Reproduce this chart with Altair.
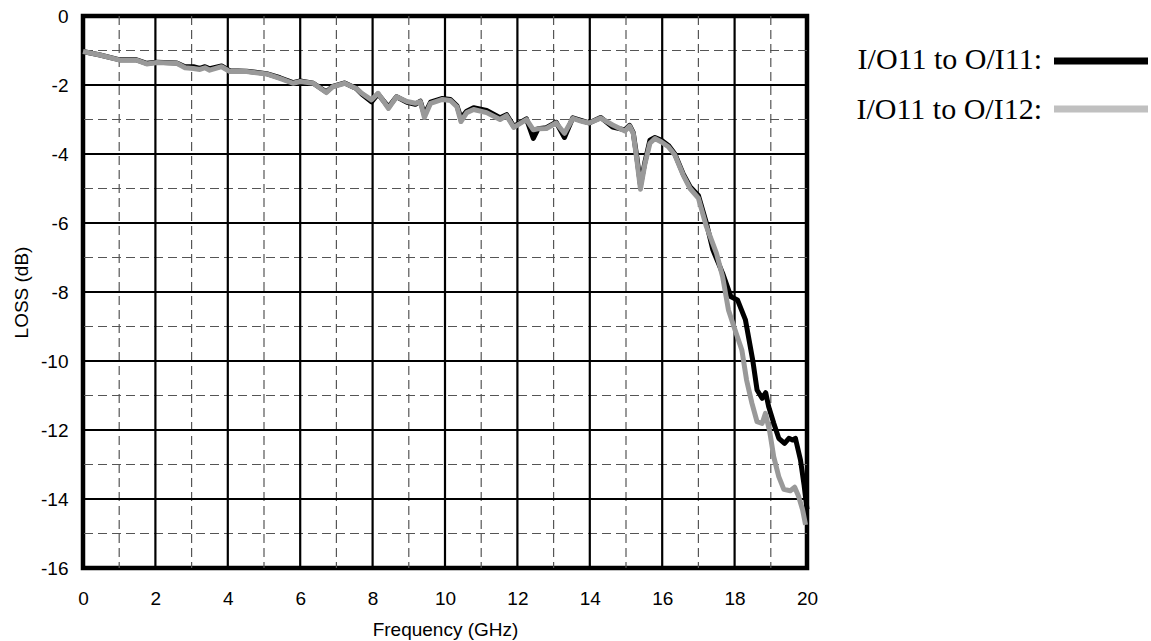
import altair as alt
import pandas as pd

# ---- data ----
freq_a = [0, 0.47, 1.02, 1.48, 1.76, 2.04, 2.59, 2.82, 3.05, 3.23, 3.37, 3.5, 3.83, 4.06, 4.52, 5.07,
          5.44, 5.8, 6.0, 6.36, 6.72, 6.9, 7.23, 7.55, 7.7, 7.97, 8.15, 8.44, 8.66, 8.95, 9.18, 9.32,
          9.43, 9.6, 9.93, 10.15, 10.33, 10.44, 10.6, 10.79, 11.15, 11.52, 11.7, 11.9, 12.25, 12.44,
          12.57, 12.8, 13.07, 13.3, 13.53, 13.8, 13.98, 14.3, 14.63, 14.97, 15.1, 15.2, 15.3, 15.4,
          15.52, 15.66, 15.8, 15.98, 16.17, 16.35, 16.58, 16.77, 17.0, 17.22, 17.4, 17.67, 17.9,
          18.08, 18.3, 18.5, 18.62, 18.76, 18.86, 18.94, 19.08, 19.22, 19.38, 19.5, 19.6, 19.68,
          19.82, 19.92, 20.0]
loss_a = [-1.03, -1.13, -1.27, -1.27, -1.37, -1.34, -1.36, -1.47, -1.47, -1.52, -1.47, -1.53, -1.45,
          -1.59, -1.6, -1.67, -1.79, -1.93, -1.88, -1.95, -2.2, -2.04, -1.94, -2.1, -2.26, -2.49,
          -2.26, -2.64, -2.34, -2.5, -2.56, -2.47, -2.86, -2.5, -2.39, -2.42, -2.6, -2.96, -2.76,
          -2.66, -2.74, -2.95, -2.86, -3.2, -2.98, -3.55, -3.27, -3.24, -3.08, -3.52, -2.95, -3.04,
          -3.1, -2.94, -3.22, -3.3, -3.17, -3.38, -4.1, -4.9, -4.25, -3.6, -3.52, -3.6, -3.75,
          -4.0, -4.58, -4.95, -5.2, -6.0, -6.78, -7.46, -8.14, -8.23, -8.81, -9.97, -10.84, -11.08,
          -10.92, -11.32, -11.8, -12.24, -12.39, -12.24, -12.29, -12.24, -12.87, -13.6, -14.3]

freq_b = [0, 0.47, 1.02, 1.48, 1.76, 2.04, 2.59, 2.82, 3.05, 3.23, 3.37, 3.5, 3.83, 4.06, 4.52, 5.07,
          5.44, 5.8, 6.0, 6.36, 6.72, 6.9, 7.23, 7.55, 7.7, 7.97, 8.15, 8.44, 8.66, 8.95, 9.18, 9.32,
          9.43, 9.6, 9.93, 10.15, 10.33, 10.44, 10.6, 10.79, 11.15, 11.52, 11.7, 11.9, 12.25, 12.44,
          12.57, 12.8, 13.07, 13.3, 13.53, 13.8, 13.98, 14.3, 14.63, 14.97, 15.1, 15.2, 15.3, 15.4,
          15.52, 15.66, 15.8, 15.98, 16.17, 16.35, 16.58, 16.77, 17.0, 17.22, 17.5, 17.67, 17.83,
          17.98, 18.2, 18.33, 18.48, 18.62, 18.76, 18.85, 18.97, 19.08, 19.22, 19.36, 19.54, 19.66,
          19.77, 19.88, 19.96]
loss_b = [-1.03, -1.13, -1.28, -1.28, -1.39, -1.35, -1.37, -1.5, -1.52, -1.55, -1.5, -1.57, -1.47,
          -1.61, -1.61, -1.68, -1.81, -1.95, -1.9, -1.95, -2.22, -2.05, -1.95, -2.1, -2.24, -2.43,
          -2.24, -2.68, -2.34, -2.48, -2.53, -2.48, -2.94, -2.53, -2.42, -2.45, -2.63, -3.06, -2.8,
          -2.71, -2.8, -3.0, -2.89, -3.23, -3.0, -3.3, -3.27, -3.26, -3.1, -3.4, -2.97, -3.06,
          -3.1, -2.96, -3.16, -3.33, -3.19, -3.4, -4.17, -5.02, -4.3, -3.69, -3.55, -3.65, -3.79,
          -4.03, -4.61, -5.0, -5.28, -6.1, -6.88, -7.56, -8.52, -9.0, -9.68, -10.55, -11.23, -11.76,
          -11.81, -11.52, -12.05, -12.77, -13.35, -13.72, -13.76, -13.66, -13.93, -14.32, -14.75]

series_names = ["I/O11 to O/I11:", "I/O11 to O/I12:"]
major_x = [2, 4, 6, 8, 10, 12, 14, 16, 18]
minor_x = [1, 3, 5, 7, 9, 11, 13, 15, 17, 19]
major_y = [-2, -4, -6, -8, -10, -12, -14]
minor_y = [-1, -3, -5, -7, -9, -11, -13, -15]
x_ticks = [0, 2, 4, 6, 8, 10, 12, 14, 16, 18, 20]
y_ticks = [0, -2, -4, -6, -8, -10, -12, -14, -16]

df_a = pd.DataFrame({"f": freq_a, "loss": loss_a})
df_b = pd.DataFrame({"f": freq_b, "loss": loss_b})

W, H = 724, 552
FONT = "Liberation Sans"
FS = 19
XT = "Frequency (GHz)"
YT = "LOSS (dB)"

xs = alt.Scale(domain=[0, 20], nice=False, zero=False)
ys = alt.Scale(domain=[-16, 0], nice=False, zero=False)

ax_x = alt.Axis(values=x_ticks, grid=False, ticks=False, domain=False,
                labelExpr="'' + datum.value",
                labelFont=FONT, labelFontSize=FS, labelColor="black", labelPadding=21,
                labelFlush=False, labelOverlap=False,
                titleFont=FONT, titleFontSize=FS, titleFontWeight="normal",
                titleColor="black", titleBaseline="alphabetic", titleY=67)
ax_y = alt.Axis(values=y_ticks, grid=False, ticks=False, domain=False,
                labelExpr="'' + datum.value",
                labelFont=FONT, labelFontSize=FS, labelColor="black", labelPadding=15,
                labelFlush=False, labelOverlap=False,
                titleFont=FONT, titleFontSize=FS, titleFontWeight="normal",
                titleColor="black", titleBaseline="alphabetic", titleX=-56)


def X(field):
    return alt.X(field, type="quantitative", scale=xs, axis=ax_x, title=XT)


def Y(field):
    return alt.Y(field, type="quantitative", scale=ys, axis=ax_y, title=YT)


minor_v = alt.Chart(pd.DataFrame({"f": minor_x})).mark_rule(
    color="#555555", strokeWidth=1.2, strokeDash=[9, 5]
).encode(x=X("f"))
minor_h = alt.Chart(pd.DataFrame({"loss": minor_y})).mark_rule(
    color="#555555", strokeWidth=1.2, strokeDash=[9, 5]
).encode(y=Y("loss"))
major_v = alt.Chart(pd.DataFrame({"f": major_x})).mark_rule(
    color="black", strokeWidth=2.2
).encode(x=X("f"))
major_h = alt.Chart(pd.DataFrame({"loss": major_y})).mark_rule(
    color="black", strokeWidth=2.2
).encode(y=Y("loss"))

line_a = alt.Chart(df_a).mark_line(color="black", strokeWidth=5, strokeJoin="round").encode(
    x=X("f"), y=Y("loss"), order="f:Q"
)
line_b = alt.Chart(df_b).mark_line(color="#999999", strokeWidth=5, strokeJoin="round").encode(
    x=X("f"), y=Y("loss"), order="f:Q"
)

# custom legend to the right of the plot (labels left of the swatches)
leg_text_a = alt.Chart(pd.DataFrame({"t": [series_names[0]]})).mark_text(
    font="Liberation Serif", fontSize=30, align="right", baseline="alphabetic", color="black"
).encode(text="t:N", x=alt.value(959), y=alt.value(53))
leg_text_b = alt.Chart(pd.DataFrame({"t": [series_names[1]]})).mark_text(
    font="Liberation Serif", fontSize=30, align="right", baseline="alphabetic", color="black"
).encode(text="t:N", x=alt.value(959), y=alt.value(103))
leg_line_a = alt.Chart(pd.DataFrame({"t": [series_names[0]]})).mark_rule(
    color="black", strokeWidth=7
).encode(x=alt.value(971), x2=alt.value(1065), y=alt.value(45))
leg_line_b = alt.Chart(pd.DataFrame({"t": [series_names[1]]})).mark_rule(
    color="#c0c0c0", strokeWidth=7
).encode(x=alt.value(971), x2=alt.value(1065), y=alt.value(93))

chart = alt.layer(
    minor_v, minor_h, major_v, major_h, line_a, line_b,
    leg_text_a, leg_text_b, leg_line_a, leg_line_b
).properties(
    width=W, height=H,
    background="white",
    autosize=alt.AutoSizeParams(type="none"),
    padding={"left": 83, "top": 16, "right": 344, "bottom": 73},
).configure_view(
    stroke="black", strokeWidth=4.5
)

chart.save("out.html", embed_options={"renderer": "svg", "actions": False})
